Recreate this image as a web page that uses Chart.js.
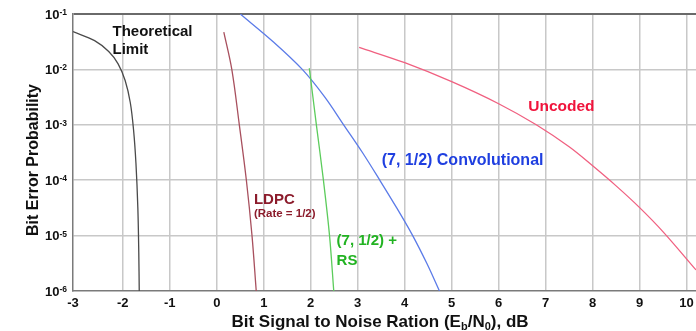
<!DOCTYPE html>
<html>
<head>
<meta charset="utf-8">
<script src="https://cdn.jsdelivr.net/npm/chart.js@4"></script>
<style>
  body { margin: 0; background: #fff; }
  #box { width: 696px; height: 331px; }
</style>
</head>
<body>
<div id="box"><canvas id="grafico" width="696" height="331"></canvas></div>
<script>
// Dados (Eb/N0 em dB, probabilidade de erro de bit)
const xTicks = [-3, -2, -1, 0, 1, 2, 3, 4, 5, 6, 7, 8, 9, 10];
const yExpoentes = [-6, -5, -4, -3, -2, -1];
const yTicks = yExpoentes.map(e => Math.pow(10, e));

const limiteX = [-3.06, -2.6, -2.3, -2.1, -1.95, -1.84, -1.77, -1.72, -1.68, -1.66, -1.65];
const limiteY = [4.8e-2, 3.3e-2, 2.1e-2, 1.26e-2, 6.3e-3, 2.5e-3, 7.9e-4, 2.0e-4, 3.2e-5, 5.0e-6, 1.0e-6];

const ldpcX = [0.15, 0.32, 0.48, 0.63, 0.75, 0.84];
const ldpcY = [4.7e-2, 1.0e-2, 1.0e-3, 1.0e-4, 1.0e-5, 1.0e-6];

const rsX = [1.97, 2.12, 2.27, 2.40, 2.49];
const rsY = [1.05e-2, 1.0e-3, 1.0e-4, 1.0e-5, 1.0e-6];

const convX = [0.5, 1.2, 1.82, 2.3, 2.7, 3.1, 3.47, 3.83, 4.17, 4.47, 4.74];
const convY = [1.0e-1, 3.16e-2, 1.0e-2, 3.16e-3, 1.0e-3, 3.16e-4, 1.0e-4, 3.16e-5, 1.0e-5, 3.16e-6, 1.0e-6];

const semCodX = [3.03, 4.0, 5.0, 6.0, 6.8, 7.5, 8.0, 8.5, 9.0, 9.5, 10.2];
const semCodY = [2.5e-2, 1.32e-2, 6.0e-3, 2.4e-3, 1.0e-3, 4.0e-4, 1.82e-4, 7.9e-5, 3.2e-5, 1.17e-5, 2.4e-6];

const FONTE = '"Liberation Sans", Arial, sans-serif';

function pontos(xs, ys) {
  return xs.map((x, i) => ({ x: x, y: ys[i] }));
}

function serie(xs, ys, cor) {
  return {
    data: pontos(xs, ys),
    borderColor: cor,
    borderWidth: 1.3,
    pointRadius: 0,
    fill: false,
    tension: 0.35
  };
}

// Rótulos das curvas (posição em coordenadas do gráfico)
const rotulos = [
  { t: 'Theoretical', x: -2.22, y: -1.40, size: 15, cor: '#111111' },
  { t: 'Limit', x: -2.22, y: -1.73, size: 15, cor: '#111111' },
  { t: 'LDPC', x: 0.79, y: -4.43, size: 15, cor: '#8c1c2c' },
  { t: '(Rate = 1/2)', x: 0.79, y: -4.66, size: 11.5, cor: '#8c1c2c' },
  { t: '(7, 1/2) +', x: 2.55, y: -5.17, size: 15, cor: '#22b322' },
  { t: 'RS', x: 2.55, y: -5.53, size: 15, cor: '#22b322' },
  { t: '(7, 1/2) Convolutional', x: 3.51, y: -3.72, size: 16, cor: '#1f3fe0' },
  { t: 'Uncoded', x: 6.63, y: -2.745, size: 15.5, cor: '#f0143c' }
];

const textos = {
  id: 'textos',
  afterDraw(chart) {
    const ctx = chart.ctx;
    const sx = chart.scales.x;
    const sy = chart.scales.y;
    ctx.save();

    // ticks do eixo y: 10 com expoente
    ctx.fillStyle = '#111';
    ctx.textBaseline = 'alphabetic';
    ctx.textAlign = 'left';
    yExpoentes.forEach(e => {
      const py = sy.getPixelForValue(Math.pow(10, e));
      ctx.font = 'bold 13px ' + FONTE;
      const w1 = ctx.measureText('10').width;
      ctx.font = 'bold 8.5px ' + FONTE;
      const w2 = ctx.measureText(String(e)).width;
      const x0 = 67 - w1 - w2;
      ctx.font = 'bold 13px ' + FONTE;
      ctx.fillText('10', x0, py + 4.5);
      ctx.font = 'bold 8.5px ' + FONTE;
      ctx.fillText(String(e), x0 + w1, py + 1);
    });

    // ticks do eixo x (o -3 fica junto ao eixo)
    ctx.font = 'bold 13px ' + FONTE;
    ctx.textAlign = 'center';
    xTicks.forEach(v => {
      const px = v === -3 ? chart.chartArea.left : sx.getPixelForValue(v);
      ctx.fillText(String(v), px, 306.5);
    });

    // título do eixo x com subscritos
    const partes = [
      { t: 'Bit Signal to Noise Ration (E', sub: false },
      { t: 'b', sub: true },
      { t: '/N', sub: false },
      { t: '0', sub: true },
      { t: '), dB', sub: false }
    ];
    let total = 0;
    partes.forEach(p => {
      ctx.font = (p.sub ? 'bold 11px ' : 'bold 17px ') + FONTE;
      p.w = ctx.measureText(p.t).width;
      total += p.w;
    });
    let cx = 380 - total / 2;
    ctx.textAlign = 'left';
    partes.forEach(p => {
      ctx.font = (p.sub ? 'bold 11px ' : 'bold 17px ') + FONTE;
      ctx.fillText(p.t, cx, p.sub ? 329.5 : 326.5);
      cx += p.w;
    });

    // título do eixo y
    ctx.translate(37.5, 160);
    ctx.rotate(-Math.PI / 2);
    ctx.font = 'bold 16px ' + FONTE;
    ctx.textAlign = 'center';
    ctx.fillText('Bit Error Probability', 0, 0);
    ctx.restore();

    // rótulos das curvas
    ctx.save();
    ctx.textAlign = 'left';
    rotulos.forEach(r => {
      ctx.font = 'bold ' + r.size + 'px ' + FONTE;
      ctx.fillStyle = r.cor;
      ctx.fillText(r.t, sx.getPixelForValue(r.x), sy.getPixelForValue(Math.pow(10, r.y)));
    });
    ctx.restore();
  }
};

new Chart(document.getElementById('grafico'), {
  type: 'line',
  data: {
    datasets: [
      serie(limiteX, limiteY, '#4a4a4a'),
      serie(ldpcX, ldpcY, '#a8505e'),
      serie(rsX, rsY, '#5ccc5c'),
      serie(convX, convY, '#5b7be8'),
      serie(semCodX, semCodY, '#f06080')
    ]
  },
  options: {
    responsive: false,
    animation: false,
    layout: { padding: { top: 14, right: 0, left: 0, bottom: 0 } },
    plugins: {
      legend: { display: false },
      tooltip: { enabled: false }
    },
    scales: {
      x: {
        type: 'linear',
        min: -3.06,
        max: 10.2,
        afterBuildTicks: scale => { scale.ticks = xTicks.filter(v => v > -3).map(v => ({ value: v })); },
        afterFit: scale => { scale.height = 40; },
        ticks: { display: false },
        grid: {
          drawTicks: false,
          lineWidth: 1.5,
          color: '#c8c8c8'
        },
        border: { color: '#7a7a7a', width: 1.5 }
      },
      y: {
        type: 'logarithmic',
        min: 1e-6,
        max: 1e-1,
        afterBuildTicks: scale => { scale.ticks = yTicks.map(v => ({ value: v })); },
        afterFit: scale => { scale.width = 73; },
        ticks: { display: false },
        grid: {
          drawTicks: false,
          lineWidth: c => (c.tick && c.tick.value > 0.09) ? 2 : 1.5,
          color: c => {
            if (!c.tick) return '#c8c8c8';
            if (c.tick.value > 0.09) return '#6a6a6a';
            if (c.tick.value < 2e-6) return 'rgba(0,0,0,0)';
            return '#c8c8c8';
          }
        },
        border: { color: '#7a7a7a', width: 1.5 }
      }
    }
  },
  plugins: [textos]
});
</script>
</body>
</html>
